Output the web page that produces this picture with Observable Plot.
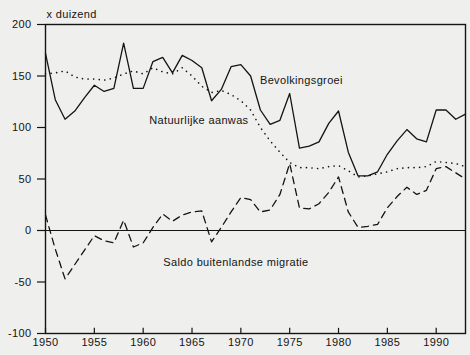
<!DOCTYPE html>
<html>
<head>
<meta charset="utf-8">
<script src="https://cdn.jsdelivr.net/npm/d3@7"></script>
<script src="https://cdn.jsdelivr.net/npm/@observablehq/plot@0.6"></script>
<style>
  html, body { margin: 0; padding: 0; background: #efefed; }
  #chart svg { display: block; }
  #chart svg text { letter-spacing: 0.35px; }
</style>
</head>
<body>
<div id="chart"></div>
<script>
const years = d3.range(1950, 1994);
const bevolkingsgroei = [172,127,108,116,129,141,135,138,182,138,138,164,168,153,170,165,158,126,137,159,161,150,117,103,107,133,80,82,86,104,116,76,53,53,57,74,87,98,89,86,117,117,108,113];
const natuurlijkeAanwas = [152,153,155,149,147,147,146,148,152,155,152,158,154,152,158,150,140,134,136,132,126,117,100,87,76,66,61,61,60,62,63,58,52,53,55,57,60,61,61,62,67,66,65,62];
const saldoMigratie = [15,-18,-47,-33,-19,-5,-10,-12,10,-16,-12,3,16,9,15,18,19,-11,3,18,32,30,18,20,35,65,22,21,26,37,52,18,3,4,6,22,33,42,35,39,60,62,56,50];
const yTicks = [-100,-50,0,50,100,150,200];
const xTicks = [1950,1955,1960,1965,1970,1975,1980,1985,1990];
const seriesLabels = ["Bevolkingsgroei", "Natuurlijke aanwas", "Saldo buitenlandse migratie"];
const labelAnchors = [[1976.2, 146], [1965.7, 107], [1969.5, -31]];
const unitLabel = "x duizend";

const rows = (vals) => years.map((y, i) => ({year: y, value: vals[i]}));
const labels = seriesLabels.map((t, i) => ({text: t, x: labelAnchors[i][0], y: labelAnchors[i][1]}));

const ink = "#141414";
const font = "Liberation Sans, Arial, sans-serif";

const chart = Plot.plot({
  width: 470,
  height: 355,
  marginLeft: 45,
  marginRight: 5,
  marginTop: 24,
  marginBottom: 22,
  style: {background: "#efefed", fontFamily: font, fontSize: "11px", color: ink},
  x: {domain: [1950, 1993]},
  y: {domain: [-100, 200]},
  marks: [
    Plot.frame({stroke: ink, strokeWidth: 1.4}),
    Plot.ruleY([0], {stroke: ink, strokeWidth: 1.2}),
    Plot.ruleX(xTicks, {x: d => d, y1: -100, y2: -95, stroke: ink, strokeWidth: 1.2}),
    Plot.line(rows(bevolkingsgroei), {x: "year", y: "value", stroke: ink, strokeWidth: 1.3}),
    Plot.line(rows(natuurlijkeAanwas), {x: "year", y: "value", stroke: ink, strokeWidth: 1.6, strokeDasharray: "0.1,5.5", strokeLinecap: "round"}),
    Plot.line(rows(saldoMigratie), {x: "year", y: "value", stroke: ink, strokeWidth: 1.3, strokeDasharray: "7,5"}),
    Plot.text(labels, {x: "x", y: "y", text: "text", fill: ink, fontSize: 11, textAnchor: "middle"}),
    Plot.text([unitLabel], {frameAnchor: "top-left", text: d => d, dx: 1, dy: -14, fill: ink, fontSize: 11, textAnchor: "start"}),
    Plot.axisY({ticks: yTicks, tickSize: 8, tickPadding: 6, tickFormat: d => String(d), label: null, stroke: ink, strokeWidth: 1.2, fill: ink}),
    Plot.axisX({ticks: xTicks, tickSize: 0, tickPadding: 5, tickFormat: d => String(d), label: null, fill: ink})
  ]
});
document.getElementById("chart").appendChild(chart);
</script>
</body>
</html>
